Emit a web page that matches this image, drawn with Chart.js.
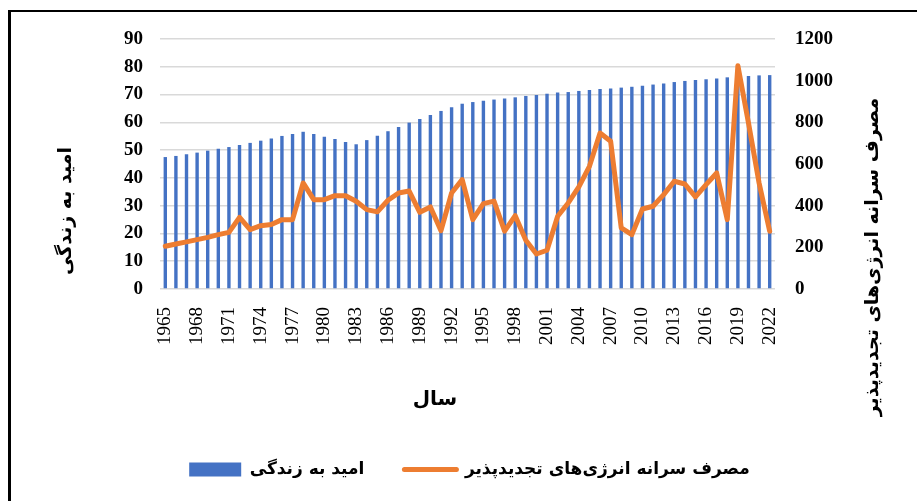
<!DOCTYPE html>
<html>
<head>
<meta charset="utf-8">
<script src="https://cdn.jsdelivr.net/npm/chart.js@4"></script>
<style>
  html, body { margin: 0; padding: 0; background: #fff; overflow: hidden; }
  canvas { display: block; }
</style>
</head>
<body>
<canvas id="chart" width="917" height="501"></canvas>
<script>
// سال‌ها
const years = [
  '1965','1966','1967','1968','1969','1970','1971','1972','1973','1974',
  '1975','1976','1977','1978','1979','1980','1981','1982','1983','1984',
  '1985','1986','1987','1988','1989','1990','1991','1992','1993','1994',
  '1995','1996','1997','1998','1999','2000','2001','2002','2003','2004',
  '2005','2006','2007','2008','2009','2010','2011','2012','2013','2014',
  '2015','2016','2017','2018','2019','2020','2021','2022'
];

// امید به زندگی (محور چپ)
const lifeExpectancy = [
  47.5, 47.9, 48.5, 49.1, 49.8, 50.5, 51.1, 51.8, 52.6, 53.4,
  54.2, 55.1, 55.8, 56.6, 55.8, 54.8, 54.0, 52.9, 52.1, 53.6,
  55.2, 56.8, 58.3, 59.9, 61.2, 62.6, 64.1, 65.4, 66.7, 67.3,
  67.8, 68.2, 68.6, 69.0, 69.5, 69.8, 70.3, 70.7, 70.9, 71.3,
  71.6, 72.0, 72.2, 72.5, 72.8, 73.2, 73.6, 74.0, 74.5, 74.9,
  75.2, 75.5, 75.8, 76.2, 76.6, 76.7, 76.9, 77.0
];

// مصرف سرانه انرژی‌های تجدیدپذیر (محور راست)
const renewablePerCapita = [
  205, 216, 226, 237, 248, 261, 272, 344, 285, 304,
  310, 333, 333, 509, 429, 429, 448, 448, 421, 381,
  370, 426, 461, 470, 368, 394, 280, 461, 525, 333,
  410, 422, 278, 352, 234, 168, 186, 349, 413, 490,
  589, 749, 709, 293, 261, 384, 397, 453, 517, 504,
  442, 501, 557, 333, 1072, 797, 509, 277
];

const leftTicks = [0, 10, 20, 30, 40, 50, 60, 70, 80, 90];
const rightTicks = [0, 200, 400, 600, 800, 1000, 1200];

const barLabel = 'امید به زندگی';
const lineLabel = 'مصرف سرانه انرژی‌های تجدیدپذیر';
const xTitle = 'سال';

const serif = "'Liberation Serif', 'Times New Roman', serif";
const persian = "'DejaVu Sans', sans-serif";

// outer frame (left + top edges only are visible in the original)
const frame = {
  id: 'frame',
  beforeDraw(chart) {
    const ctx = chart.ctx;
    ctx.save();
    ctx.fillStyle = '#000';
    ctx.fillRect(8, 10, 3, chart.height - 10);
    ctx.fillRect(8, 10, chart.width - 8, 2);
    ctx.restore();
  }
};

// axis titles drawn by hand: both vertical ones read top-down, x title sits left of centre
const axisTitles = {
  id: 'axisTitles',
  afterDraw(chart) {
    const ctx = chart.ctx;
    const draw = (text, x, y) => {
      ctx.save();
      ctx.translate(x, y);
      ctx.rotate(-Math.PI / 2);
      ctx.fillText(text, 0, 0);
      ctx.restore();
    };
    ctx.save();
    ctx.fillStyle = '#000';
    ctx.font = 'bold 19px ' + persian;
    ctx.textAlign = 'center';
    ctx.textBaseline = 'middle';
    draw(barLabel, 66, 211);
    draw(lineLabel, 873, 257);
    ctx.font = 'bold 20px ' + persian;
    ctx.fillText(xTitle, 435, 400);
    ctx.restore();
  }
};

new Chart(document.getElementById('chart'), {
  type: 'bar',
  data: {
    labels: years,
    datasets: [
      {
        type: 'bar',
        label: barLabel,
        data: lifeExpectancy,
        yAxisID: 'y',
        backgroundColor: '#4472C4',
        borderWidth: 0,
        barPercentage: 0.32,
        categoryPercentage: 1,
        pointStyle: 'rect',
        order: 1
      },
      {
        type: 'line',
        label: lineLabel,
        data: renewablePerCapita,
        yAxisID: 'y1',
        borderColor: '#ED7D31',
        borderWidth: 5,
        borderJoinStyle: 'round',
        borderCapStyle: 'round',
        tension: 0,
        pointRadius: 0,
        pointHoverRadius: 0,
        pointStyle: 'line',
        pointBorderColor: '#ED7D31',
        pointBorderWidth: 5,
        order: 0
      }
    ]
  },
  options: {
    responsive: false,
    animation: false,
    events: [],
    layout: { padding: { left: 22, right: 0, top: 39, bottom: 13 } },
    plugins: {
      tooltip: { enabled: false },
      legend: {
        position: 'bottom',
        reverse: true,
        labels: {
          usePointStyle: true,
          pointStyleWidth: 52,
          boxHeight: 14,
          padding: 40,
          color: '#000',
          font: { family: persian, size: 17, weight: 'bold' },
          generateLabels(chart) {
            const items = Chart.defaults.plugins.legend.labels.generateLabels(chart);
            items.forEach(it => { if (it.pointStyle === 'line') it.lineCap = 'round'; });
            return items;
          }
        }
      }
    },
    scales: {
      x: {
        grid: { display: false },
        border: { display: false },
        ticks: {
          autoSkip: false,
          maxRotation: 90,
          minRotation: 90,
          padding: 10,
          color: '#000',
          font: { family: serif, size: 19 },
          callback(value, index) { return index % 3 === 0 ? years[index] : ''; }
        },
        afterFit(scale) { scale.height = 132; }
      },
      y: {
        position: 'left',
        min: 0,
        max: 90,
        afterBuildTicks(scale) { scale.ticks = leftTicks.map(v => ({ value: v })); },
        grid: { color: '#D9D9D9', lineWidth: 1.5, drawTicks: false },
        border: { display: false },
        ticks: {
          padding: 17,
          color: '#000',
          font: { family: serif, size: 19, weight: 'bold' },
          callback: v => String(v)
        },
        afterFit(scale) { scale.width = 138; }
      },
      y1: {
        position: 'right',
        min: 0,
        max: 1200,
        afterBuildTicks(scale) { scale.ticks = rightTicks.map(v => ({ value: v })); },
        grid: { display: false, drawTicks: false },
        border: { display: false },
        ticks: {
          padding: 20,
          color: '#000',
          font: { family: serif, size: 19, weight: 'bold' },
          callback: v => String(v)
        },
        afterFit(scale) { scale.width = 142; }
      }
    }
  },
  plugins: [frame, axisTitles]
});
</script>
</body>
</html>
